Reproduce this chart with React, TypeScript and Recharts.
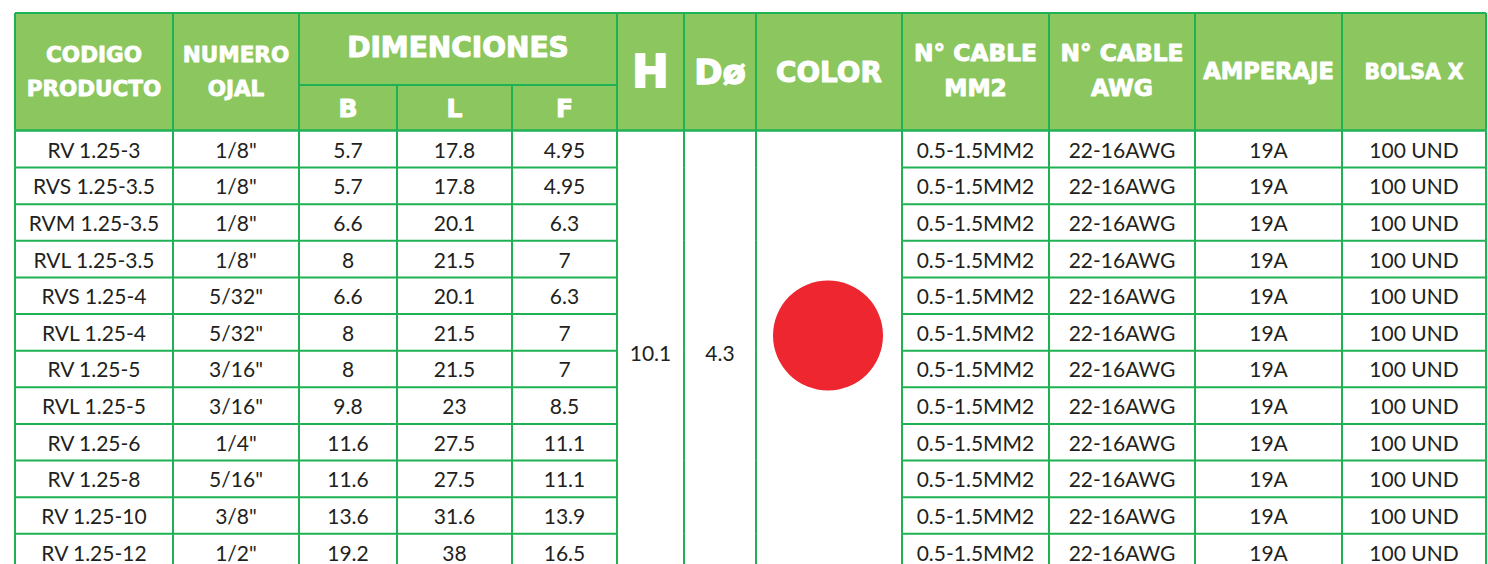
import React from 'react';
import { ComposedChart, Bar, XAxis, YAxis, Customized } from 'recharts';

// product rows
const codes = ['RV 1.25-3', 'RVS 1.25-3.5', 'RVM 1.25-3.5', 'RVL 1.25-3.5', 'RVS 1.25-4', 'RVL 1.25-4', 'RV 1.25-5', 'RVL 1.25-5', 'RV 1.25-6', 'RV 1.25-8', 'RV 1.25-10', 'RV 1.25-12'];
const ojal = ['1/8"', '1/8"', '1/8"', '1/8"', '5/32"', '5/32"', '3/16"', '3/16"', '1/4"', '5/16"', '3/8"', '1/2"'];
const dimB = [5.7, 5.7, 6.6, 8, 6.6, 8, 8, 9.8, 11.6, 11.6, 13.6, 19.2];
const dimL = [17.8, 17.8, 20.1, 21.5, 20.1, 21.5, 21.5, 23, 27.5, 27.5, 31.6, 38];
const dimF = [4.95, 4.95, 6.3, 7, 6.3, 7, 7, 8.5, 11.1, 11.1, 13.9, 16.5];
const cableMM2 = ['0.5-1.5MM2', '0.5-1.5MM2', '0.5-1.5MM2', '0.5-1.5MM2', '0.5-1.5MM2', '0.5-1.5MM2', '0.5-1.5MM2', '0.5-1.5MM2', '0.5-1.5MM2', '0.5-1.5MM2', '0.5-1.5MM2', '0.5-1.5MM2'];
const cableAWG = ['22-16AWG', '22-16AWG', '22-16AWG', '22-16AWG', '22-16AWG', '22-16AWG', '22-16AWG', '22-16AWG', '22-16AWG', '22-16AWG', '22-16AWG', '22-16AWG'];
const amperaje = ['19A', '19A', '19A', '19A', '19A', '19A', '19A', '19A', '19A', '19A', '19A', '19A'];
const bolsa = ['100 UND', '100 UND', '100 UND', '100 UND', '100 UND', '100 UND', '100 UND', '100 UND', '100 UND', '100 UND', '100 UND', '100 UND'];

// merged cells
const heightH = 10.1;
const diamD = 4.3;
const terminalColor = '#ED2630';

// header labels
const headCodigo = ['CODIGO', 'PRODUCTO'];
const headOjal = ['NUMERO', 'OJAL'];
const headDim = 'DIMENCIONES';
const headDimSub = ['B', 'L', 'F'];
const headMM2 = ['N° CABLE', 'MM2'];
const headAWG = ['N° CABLE', 'AWG'];

const data = codes.map((code, i) => ({ code, row: i }));

const COLS = [15, 173, 299, 397, 512, 617, 684, 756, 902, 1049, 1195, 1342, 1486];
const HEAD_TOP = 13;
const HEAD_BOTTOM = 130.5;
const LINE = '#1FB254';
const HEAD_FILL = '#8BC75E';
const BODY_FONT = 'Lato, "Open Sans", sans-serif';
const HEAD_FONT = '"DejaVu Sans", sans-serif';

const mid = (c: number) => (COLS[c] + COLS[c + 1]) / 2;

const RowShape = (props: any) => {
  const { y, height, index } = props;
  const bottom = y + height;
  const cells: [number, string][] = [
    [0, codes[index]],
    [1, ojal[index]],
    [2, String(dimB[index])],
    [3, String(dimL[index])],
    [4, String(dimF[index])],
    [8, cableMM2[index]],
    [9, cableAWG[index]],
    [10, amperaje[index]],
    [11, bolsa[index]],
  ];
  const total = height * codes.length;
  const center = y + total / 2;
  return (
    <g>
      {cells.map(([c, t]) => (
        <text key={c} x={mid(c)} y={y + height * 0.735} textAnchor="middle" fontFamily={BODY_FONT} fontSize={21} fill="#231F20">
          {t}
        </text>
      ))}
      <line x1={COLS[0]} x2={COLS[5]} y1={bottom} y2={bottom} stroke={LINE} strokeWidth={2} />
      <line x1={COLS[8]} x2={COLS[12]} y1={bottom} y2={bottom} stroke={LINE} strokeWidth={2} />
      {COLS.map((x) => (
        <line key={x} x1={x} x2={x} y1={y} y2={bottom} stroke={LINE} strokeWidth={2} />
      ))}
      {index === 0 && (
        <g>
          <text x={mid(5)} y={center + 8} textAnchor="middle" fontFamily={BODY_FONT} fontSize={21} fill="#231F20">{String(heightH)}</text>
          <text x={mid(6)} y={center + 8} textAnchor="middle" fontFamily={BODY_FONT} fontSize={21} fill="#231F20">{String(diamD)}</text>
          <circle cx={mid(7) - 1} cy={center - 17} r={55} fill={terminalColor} />
        </g>
      )}
    </g>
  );
};

const HeadText = ({ x, y, size, children }: any) => (
  <text
    x={x}
    y={y}
    textAnchor="middle"
    fontFamily={HEAD_FONT}
    fontWeight="bold"
    fontSize={size}
    fill="#FFFFFF"
    stroke="#FFFFFF"
    strokeWidth={size * 0.04}
    strokeLinejoin="round"
  >
    {children}
  </text>
);

const Header = () => {
  const subTop = 85;
  return (
    <g>
      <rect x={COLS[0]} y={HEAD_TOP} width={COLS[12] - COLS[0]} height={HEAD_BOTTOM - HEAD_TOP} fill={HEAD_FILL} />
      <line x1={COLS[0]} x2={COLS[12]} y1={HEAD_TOP} y2={HEAD_TOP} stroke={LINE} strokeWidth={2} />
      <line x1={COLS[0]} x2={COLS[12]} y1={HEAD_BOTTOM} y2={HEAD_BOTTOM} stroke={LINE} strokeWidth={2.6} />
      <line x1={COLS[2]} x2={COLS[5]} y1={subTop} y2={subTop} stroke={LINE} strokeWidth={2} />
      {COLS.map((x, i) =>
        i === 3 || i === 4 ? (
          <line key={x} x1={x} x2={x} y1={subTop} y2={HEAD_BOTTOM} stroke={LINE} strokeWidth={2} />
        ) : (
          <line key={x} x1={x} x2={x} y1={HEAD_TOP} y2={HEAD_BOTTOM} stroke={LINE} strokeWidth={2} />
        )
      )}
      <HeadText x={mid(0)} y={62} size={21.5}>{headCodigo[0]}</HeadText>
      <HeadText x={mid(0)} y={96} size={21.5}>{headCodigo[1]}</HeadText>
      <HeadText x={mid(1)} y={62} size={21.5}>{headOjal[0]}</HeadText>
      <HeadText x={mid(1)} y={96} size={21.5}>{headOjal[1]}</HeadText>
      <HeadText x={(COLS[2] + COLS[5]) / 2} y={57} size={28}>{headDim}</HeadText>
      {headDimSub.map((t, i) => (
        <HeadText key={t} x={mid(2 + i)} y={117} size={25}>{t}</HeadText>
      ))}
      <HeadText x={mid(5)} y={87} size={44}>H</HeadText>
      <HeadText x={mid(6)} y={84} size={34}>Dø</HeadText>
      <HeadText x={mid(7)} y={82} size={27.8}>COLOR</HeadText>
      <HeadText x={mid(8)} y={61} size={23.3}>{headMM2[0]}</HeadText>
      <HeadText x={mid(8)} y={96} size={23.3}>{headMM2[1]}</HeadText>
      <HeadText x={mid(9)} y={61} size={23.3}>{headAWG[0]}</HeadText>
      <HeadText x={mid(9)} y={96} size={23.3}>{headAWG[1]}</HeadText>
      <HeadText x={mid(10)} y={79} size={22.6}>AMPERAJE</HeadText>
      <HeadText x={mid(11)} y={79} size={20.4}>BOLSA X</HeadText>
    </g>
  );
};

export default function App() {
  return (
    <div style={{ position: 'absolute', left: 0, top: 0, width: 1488, height: 564, overflow: 'hidden', background: '#FFFFFF' }}>
      <ComposedChart
        layout="vertical"
        width={1488}
        height={570}
        data={data}
        margin={{ top: HEAD_BOTTOM, right: 0, bottom: 0, left: 0 }}
        barCategoryGap={0}
      >
        <XAxis type="number" domain={[0, 1488]} hide />
        <YAxis type="category" dataKey="code" hide />
        <Customized component={Header} />
        <Bar dataKey={() => COLS[12]} shape={RowShape} isAnimationActive={false} />
      </ComposedChart>
    </div>
  );
}
